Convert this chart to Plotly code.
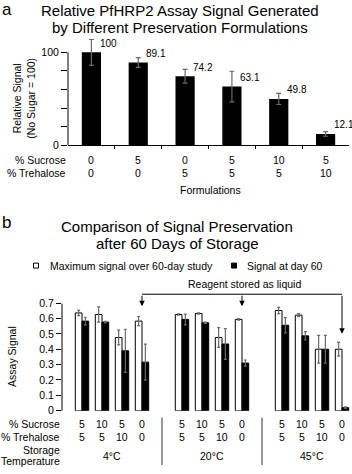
import plotly.graph_objects as go

# ---------------- data ----------------
a_sucrose = ['0', '5', '0', '5', '10', '5']
a_trehalose = ['0', '0', '5', '5', '5', '10']
a_values = [100, 89.1, 74.2, 63.1, 49.8, 12.1]
a_errors = [14, 5.3, 7.4, 16.5, 6, 2.5]

b_temps = ['4°C', '20°C', '45°C']
b_sucrose = ['5', '10', '5', '0']
b_trehalose = ['5', '5', '10', '0']
max_signal = [0.636, 0.626, 0.476, 0.583, 0.626, 0.633, 0.476, 0.594, 0.652, 0.622, 0.40, 0.40]
max_err = [0.017, 0.05, 0.048, 0.03, 0.005, 0.004, 0.064, 0.005, 0.02, 0.01, 0.09, 0.045]
day60 = [0.583, 0.577, 0.39, 0.316, 0.594, 0.572, 0.434, 0.31, 0.556, 0.487, 0.40, 0.02]
day60_err = [0.025, 0.004, 0.14, 0.117, 0.035, 0.004, 0.10, 0.02, 0.05, 0.027, 0.09, 0.005]
b_ticks = [0, 0.1, 0.2, 0.3, 0.4, 0.5, 0.6, 0.7]

W, H = 352, 474
FONT = 'Liberation Sans, Arial, Helvetica, sans-serif'


def px(p):
    return p / W


def py(p):
    return 1 - p / H


a_x = list(range(len(a_values)))
n_items = len(b_sucrose)
b_x = [g * (n_items + 1) + i for g in range(len(b_temps)) for i in range(n_items)]

fig = go.Figure()

# panel a
fig.add_trace(go.Bar(
    x=a_x, y=a_values, width=0.41, marker=dict(color='black', line=dict(width=0)),
    error_y=dict(type='data', array=a_errors, color='#6a6a6a', thickness=1.2, width=2.5),
    xaxis='x', yaxis='y', showlegend=False))

# panel b
BW = 0.335
fig.add_trace(go.Bar(
    x=b_x, y=max_signal, width=BW, offset=-BW, name='Maximum signal over 60-day study',
    marker=dict(color='white', line=dict(color='black', width=1)),
    error_y=dict(type='data', array=max_err, color='#6a6a6a', thickness=1.2, width=1.5),
    xaxis='x2', yaxis='y2', showlegend=False))
fig.add_trace(go.Bar(
    x=b_x, y=day60, width=BW, offset=0, name='Signal at day 60',
    marker=dict(color='black', line=dict(color='black', width=1)),
    error_y=dict(type='data', array=day60_err, color='#6a6a6a', thickness=1.2, width=1.5),
    xaxis='x2', yaxis='y2', showlegend=False))

ann = []
shapes = []


def text(x, y, s, size=10.5, xanchor='center', xref='paper', yref='paper', **kw):
    ann.append(dict(x=x, y=y, text=s, xref=xref, yref=yref, showarrow=False,
                    xanchor=xanchor, yanchor='middle',
                    font=dict(family=FONT, size=size, color='black'), **kw))


# ---- panel a texts ----
text(px(7.5), py(10), 'a', size=17)
text(px(180), py(11), 'Relative PfHRP2 Assay Signal Generated', size=15)
text(px(180), py(27.5), 'by Different Preservation Formulations', size=15)
for i, v in enumerate(a_values):
    ann.append(dict(x=i + 0.13, y=v, xref='x', yref='y', text=f'{v:g}', showarrow=False,
                    xanchor='left', yanchor='middle', yshift=9,
                    font=dict(family=FONT, size=10, color='black')))
for i in a_x:
    text(i, py(162), a_sucrose[i], xref='x')
    text(i, py(175.5), a_trehalose[i], xref='x')
text(px(68), py(162), '% Sucrose', xanchor='right')
text(px(68), py(175.5), '% Trehalose', xanchor='right')
text(px(210), py(192), 'Formulations')
text(px(24), py(100), 'Relative Signal<br>(No Sugar = 100)', textangle=-90)

# panel a y-axis line
shapes.append(dict(type='line', xref='paper', yref='paper', x0=px(68), x1=px(68),
                   y0=py(147), y1=py(53), line=dict(color='black', width=1)))

# ---- panel b texts ----
text(px(6), py(225), 'b', size=17)
text(px(177), py(229), 'Comparison of Signal Preservation', size=15)
text(px(177), py(247), 'after 60 Days of Storage', size=15)
# legend
shapes.append(dict(type='rect', xref='paper', yref='paper', x0=px(33.5), x1=px(38.5),
                   y0=py(271.5), y1=py(266.5), line=dict(color='black', width=1), fillcolor='white'))
text(px(48), py(269), 'Maximum signal over 60-day study', xanchor='left')
shapes.append(dict(type='rect', xref='paper', yref='paper', x0=px(231.5), x1=px(236.5),
                   y0=py(271.5), y1=py(266.5), line=dict(color='black', width=1), fillcolor='black'))
text(px(245), py(269), 'Signal at day 60', xanchor='left')

# bracket
text(px(244), py(288), 'Reagent stored as liquid')
liquid_idx = [g * (n_items + 1) + 3 for g in range(len(b_temps))]
y_br = (416 - 298) / 155.7
shapes.append(dict(type='line', xref='x2', yref='y2', x0=liquid_idx[0], x1=liquid_idx[-1],
                   y0=y_br, y1=y_br, line=dict(color='black', width=1)))
tips = [0.68, 0.68, 0.50]
for xi, tip in zip(liquid_idx, tips):
    ann.append(dict(x=xi, y=tip, ax=xi, ay=y_br, xref='x2', yref='y2', axref='x2', ayref='y2',
                    text='', showarrow=True, arrowhead=2, arrowsize=1.1, arrowwidth=1,
                    arrowcolor='black', standoff=0, startstandoff=0))

# category labels
for k, xv in enumerate(b_x):
    i = k % n_items
    text(xv, py(429), b_sucrose[i], xref='x2')
    text(xv, py(442.5), b_trehalose[i], xref='x2')
for g, t in enumerate(b_temps):
    text(g * (n_items + 1) + (n_items - 1) / 2, py(461.5), t, xref='x2')
text(px(62), py(429), '% Sucrose', xanchor='right')
text(px(62), py(442.5), '% Trehalose', xanchor='right')
text(px(62), py(455.5), 'Storage', xanchor='right')
text(px(62), py(467), 'Temperature', xanchor='right')
text(px(12.5), py(361), 'Assay Signal', textangle=-90)

for g in range(1, len(b_temps)):
    xs = g * (n_items + 1) - 1
    shapes.append(dict(type='line', xref='x2', yref='paper', x0=xs, x1=xs,
                       y0=py(423), y1=py(471), line=dict(color='#333333', width=1)))

shapes.append(dict(type='line', xref='paper', yref='paper', x0=px(62), x1=px(62),
                   y0=py(416), y1=py(307.7), line=dict(color='black', width=1)))

fig.update_layout(
    width=W, height=H, margin=dict(l=0, r=0, t=0, b=0),
    paper_bgcolor='white', plot_bgcolor='white',
    font=dict(family=FONT, size=10.5, color='black'),
    barmode='overlay', showlegend=False,
    annotations=ann, shapes=shapes,
    xaxis=dict(domain=[px(68), px(349)], range=[-0.5, 5.5], anchor='y',
               showline=True, linecolor='black', linewidth=1,
               tickvals=[0.5, 1.5, 2.5, 3.5, 4.5], ticktext=['', '', '', '', ''],
               ticks='outside', ticklen=3, tickcolor='black', showgrid=False, zeroline=False),
    yaxis=dict(domain=[py(147), py(147 - 0.94 * 115)], range=[0, 115], anchor='x',
               tickvals=[0, 20, 40, 60, 80, 100], ticktext=['0', '', '', '', '', '100'],
               ticks='outside', ticklen=6, tickcolor='black', showgrid=False, zeroline=False,
               showline=False, tickfont=dict(size=10.5)),
    xaxis2=dict(domain=[px(62), 1], range=[-1, 13.5], anchor='y2', showline=False,
                showticklabels=False, ticks='', showgrid=False, zeroline=False),
    yaxis2=dict(domain=[py(416), py(416 - 155.7 * 0.85)], range=[0, 0.85], anchor='x2',
                tickvals=b_ticks, ticktext=[f'{t:g}' if t else '0' for t in b_ticks],
                ticks='outside', ticklen=5, tickcolor='black', showgrid=False, zeroline=False,
                showline=False, tickfont=dict(size=10.5)),
)

fig.write_html('out.html', config={'displayModeBar': False},
               post_script="document.body.style.margin='0';document.body.style.overflow='hidden';")
